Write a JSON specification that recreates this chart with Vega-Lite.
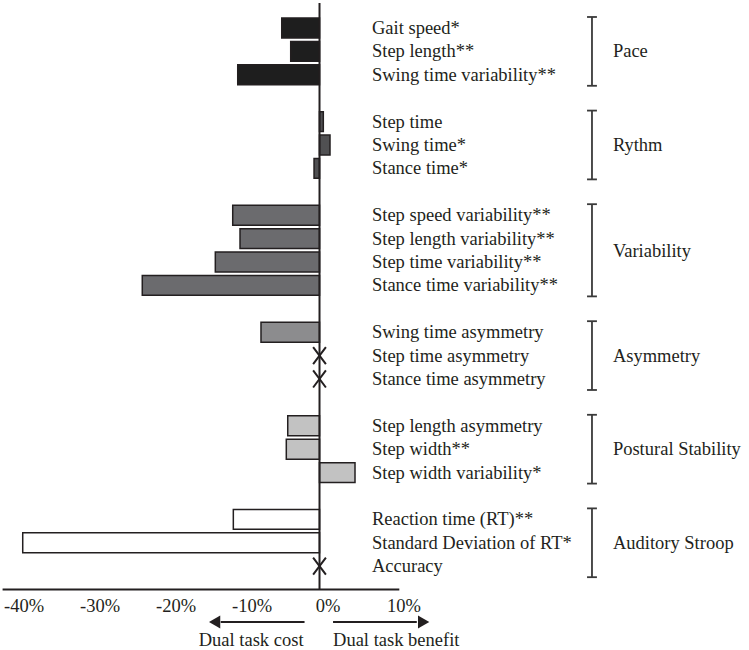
{
  "$schema": "https://vega.github.io/schema/vega-lite/v6.json",
  "width": 749,
  "height": 650,
  "autosize": {"type": "none"},
  "padding": 0,
  "config": {"view": {"stroke": null}, "font": "Liberation Serif"},
  "datasets": {
    "measures": [
      {"label": "Gait speed*", "group": "Pace", "value": -4.97},
      {"label": "Step length**", "group": "Pace", "value": -3.79},
      {"label": "Swing time variability**", "group": "Pace", "value": -10.76},
      {"label": "Step time", "group": "Rythm", "value": 0.5},
      {"label": "Swing time*", "group": "Rythm", "value": 1.38},
      {"label": "Stance time*", "group": "Rythm", "value": -0.72},
      {"label": "Step speed variability**", "group": "Variability", "value": -11.42},
      {"label": "Step length variability**", "group": "Variability", "value": -10.46},
      {"label": "Step time variability**", "group": "Variability", "value": -13.71},
      {"label": "Stance time variability**", "group": "Variability", "value": -23.32},
      {"label": "Swing time asymmetry", "group": "Asymmetry", "value": -7.7},
      {"label": "Step time asymmetry", "group": "Asymmetry", "value": null},
      {"label": "Stance time asymmetry", "group": "Asymmetry", "value": null},
      {"label": "Step length asymmetry", "group": "Postural Stability", "value": -4.18},
      {"label": "Step width**", "group": "Postural Stability", "value": -4.37},
      {"label": "Step width variability*", "group": "Postural Stability", "value": 4.67},
      {"label": "Reaction time (RT)**", "group": "Auditory Stroop", "value": -11.34},
      {"label": "Standard Deviation of RT*", "group": "Auditory Stroop", "value": -39.05},
      {"label": "Accuracy", "group": "Auditory Stroop", "value": null}
    ],
    "groups": [
      {"group": "Pace", "first": "Gait speed*", "last": "Swing time variability**", "mid": "Step length**"},
      {"group": "Rythm", "first": "Step time", "last": "Stance time*", "mid": "Swing time*"},
      {"group": "Variability", "first": "Step speed variability**", "last": "Stance time variability**", "mid": "Step length variability**"},
      {"group": "Asymmetry", "first": "Swing time asymmetry", "last": "Stance time asymmetry", "mid": "Step time asymmetry"},
      {"group": "Postural Stability", "first": "Step length asymmetry", "last": "Step width variability*", "mid": "Step width**"},
      {"group": "Auditory Stroop", "first": "Reaction time (RT)**", "last": "Accuracy", "mid": "Standard Deviation of RT*"}
    ],
    "one": [{"k": 1}]
  },
  "layer": [
    {
      "data": {"name": "measures"},
      "transform": [{"filter": "datum.value != null"}],
      "mark": {"type": "bar", "stroke": "#231f20", "strokeWidth": 1.5},
      "encoding": {
        "x": {"field": "value", "type": "quantitative",
          "scale": {"domain": [-42.04, 56.51], "nice": false, "zero": false},
          "axis": {"title": null, "values": [-40, -30, -20, -10, 0, 10], "labelExpr": "datum.value + '%'", "domain": false, "ticks": false, "tickSize": 0, "grid": false, "offset": -60, "labelPadding": 6, "labelFont": "Liberation Serif", "labelFontSize": 18.5, "labelColor": "#231f20", "labelOffset": 8, "labelFlush": false, "labelOverlap": false}},
        "x2": {"datum": 0},
        "y": {"field": "label", "type": "nominal", "axis": null,
          "scale": {"domain": ["Gait speed*", "Step length**", "Swing time variability**", "_g1", "Step time", "Swing time*", "Stance time*", "_g2", "Step speed variability**", "Step length variability**", "Step time variability**", "Stance time variability**", "_g3", "Swing time asymmetry", "Step time asymmetry", "Stance time asymmetry", "_g4", "Step length asymmetry", "Step width**", "Step width variability*", "_g5", "Reaction time (RT)**", "Standard Deviation of RT*", "Accuracy", "_axis", "_arrow", "_note"], "paddingInner": 0.15, "paddingOuter": 0.464, "align": 0.831}},
        "color": {"field": "group", "type": "nominal", "legend": null,
          "scale": {"domain": ["Pace", "Rythm", "Variability", "Asymmetry", "Postural Stability", "Auditory Stroop"], "range": ["#1e1e1e", "#505052", "#6b6b6e", "#8c8c8e", "#c2c2c2", "#ffffff"]}}
      }
    },
    {
      "data": {"name": "one"},
      "mark": {"type": "rule", "stroke": "#231f20", "strokeWidth": 2, "yOffset": -25},
      "encoding": {
        "x": {"datum": 0, "type": "quantitative"},
        "y": {"datum": "Gait speed*", "type": "nominal", "axis": null},
        "y2": {"datum": "_axis"}
      }
    },
    {
      "data": {"name": "one"},
      "mark": {"type": "rule", "stroke": "#231f20", "strokeWidth": 2},
      "encoding": {
        "x": {"datum": -41.7, "type": "quantitative"},
        "x2": {"datum": 10.5},
        "y": {"datum": "_axis", "type": "nominal", "axis": null}
      }
    },
    {
      "data": {"name": "measures"},
      "transform": [{"filter": "datum.value == null"}],
      "mark": {"type": "point", "shape": "M-0.75,-1L0.75,1M0.75,-1L-0.75,1", "filled": false, "stroke": "#231f20", "strokeWidth": 2, "size": 290, "opacity": 1},
      "encoding": {
        "x": {"datum": 0, "type": "quantitative"},
        "y": {"field": "label", "type": "nominal", "axis": null}
      }
    },
    {
      "data": {"name": "measures"},
      "mark": {"type": "text", "align": "left", "baseline": "middle", "font": "Liberation Serif", "fontSize": 18.5, "color": "#231f20"},
      "encoding": {
        "x": {"datum": 6.9, "type": "quantitative"},
        "y": {"field": "label", "type": "nominal", "axis": null},
        "text": {"field": "label"}
      }
    },
    {
      "data": {"name": "groups"},
      "mark": {"type": "rule", "stroke": "#3a3a3a", "strokeWidth": 1.8, "yOffset": -11, "y2Offset": 11},
      "encoding": {
        "x": {"datum": 35.85, "type": "quantitative"},
        "y": {"field": "first", "type": "nominal", "axis": null},
        "y2": {"field": "last"}
      }
    },
    {
      "data": {"name": "groups"},
      "mark": {"type": "rule", "stroke": "#3a3a3a", "strokeWidth": 1.8, "yOffset": -11},
      "encoding": {
        "x": {"datum": 35.2, "type": "quantitative"},
        "x2": {"datum": 36.5},
        "y": {"field": "first", "type": "nominal", "axis": null}
      }
    },
    {
      "data": {"name": "groups"},
      "mark": {"type": "rule", "stroke": "#3a3a3a", "strokeWidth": 1.8, "yOffset": 11},
      "encoding": {
        "x": {"datum": 35.2, "type": "quantitative"},
        "x2": {"datum": 36.5},
        "y": {"field": "last", "type": "nominal", "axis": null}
      }
    },
    {
      "data": {"name": "groups"},
      "transform": [{"filter": "datum.group != 'Variability'"}],
      "mark": {"type": "text", "align": "left", "baseline": "middle", "font": "Liberation Serif", "fontSize": 18.5, "color": "#231f20"},
      "encoding": {
        "x": {"datum": 38.6, "type": "quantitative"},
        "y": {"field": "mid", "type": "nominal", "axis": null},
        "text": {"field": "group"}
      }
    },
    {
      "data": {"name": "groups"},
      "transform": [{"filter": "datum.group == 'Variability'"}],
      "mark": {"type": "text", "align": "left", "baseline": "middle", "font": "Liberation Serif", "fontSize": 18.5, "color": "#231f20", "yOffset": 12},
      "encoding": {
        "x": {"datum": 38.6, "type": "quantitative"},
        "y": {"field": "mid", "type": "nominal", "axis": null},
        "text": {"field": "group"}
      }
    },
    {
      "data": {"name": "one"},
      "mark": {"type": "rule", "stroke": "#231f20", "strokeWidth": 2, "yOffset": 9},
      "encoding": {
        "x": {"datum": -1.97, "type": "quantitative"},
        "x2": {"datum": -13.0},
        "y": {"datum": "_arrow", "type": "nominal", "axis": null}
      }
    },
    {
      "data": {"name": "one"},
      "mark": {"type": "rule", "stroke": "#231f20", "strokeWidth": 2, "yOffset": 9},
      "encoding": {
        "x": {"datum": 1.78, "type": "quantitative"},
        "x2": {"datum": 12.8},
        "y": {"datum": "_arrow", "type": "nominal", "axis": null}
      }
    },
    {
      "data": {"name": "one"},
      "mark": {"type": "point", "shape": "triangle-left", "filled": true, "size": 170, "color": "#231f20", "opacity": 1, "yOffset": 9},
      "encoding": {
        "x": {"datum": -13.8, "type": "quantitative"},
        "y": {"datum": "_arrow", "type": "nominal", "axis": null}
      }
    },
    {
      "data": {"name": "one"},
      "mark": {"type": "point", "shape": "triangle-right", "filled": true, "size": 170, "color": "#231f20", "opacity": 1, "yOffset": 9},
      "encoding": {
        "x": {"datum": 13.7, "type": "quantitative"},
        "y": {"datum": "_arrow", "type": "nominal", "axis": null}
      }
    },
    {
      "data": {"name": "one"},
      "mark": {"type": "text", "align": "center", "baseline": "middle", "font": "Liberation Serif", "fontSize": 18.5, "color": "#231f20", "yOffset": 4},
      "encoding": {
        "x": {"datum": -9.0, "type": "quantitative"},
        "y": {"datum": "_note", "type": "nominal", "axis": null},
        "text": {"value": "Dual task cost"}
      }
    },
    {
      "data": {"name": "one"},
      "mark": {"type": "text", "align": "left", "baseline": "middle", "font": "Liberation Serif", "fontSize": 18.5, "color": "#231f20", "yOffset": 4},
      "encoding": {
        "x": {"datum": 1.78, "type": "quantitative"},
        "y": {"datum": "_note", "type": "nominal", "axis": null},
        "text": {"value": "Dual task benefit"}
      }
    }
  ]
}
